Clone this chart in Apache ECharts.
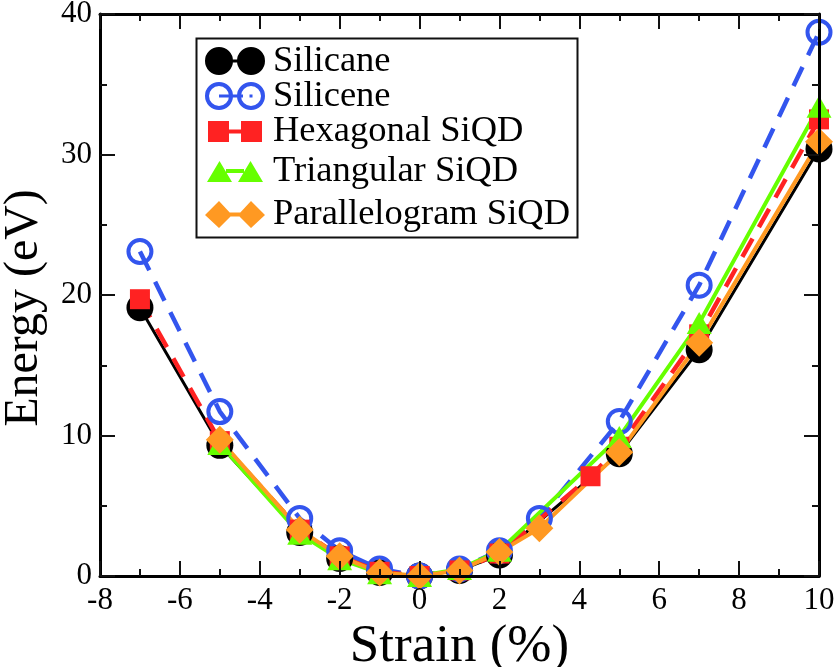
<!DOCTYPE html>
<html><head><meta charset="utf-8">
<style>html,body{margin:0;padding:0;background:#fff}#c{width:838px;height:667px}</style>
<script src="https://cdn.jsdelivr.net/npm/echarts@6/dist/echarts.min.js"></script>
</head><body><div id="c"></div>
<script>
const seriesNames = ["Silicane","Silicene","Hexagonal SiQD","Triangular SiQD","Parallelogram SiQD"];
const silicaneX = [-7,-5,-3,-2,-1,0,1,2,5,7,10];
const silicaneY = [19.1,9.3,3.1,1.25,0.25,0,0.4,1.5,8.7,16.1,30.4];
const siliceneX = [-7,-5,-3,-2,-1,0,1,2,3,5,7,10];
const siliceneY = [23.1,11.7,4.1,1.8,0.5,0,0.5,1.8,4.1,11,20.7,38.7];
const hexagonalX = [-7,-5,-3,-2,-1,0,1,2,4.28,5,7,10];
const hexagonalY = [19.7,9.6,3.3,1.4,0.3,0,0.4,1.6,7.1,9.2,17.2,32.5];
const triangularX = [-5,-3,-2,-1,0,1,2,5,7,10];
const triangularY = [9.4,3.0,1.2,0.2,0,0.5,1.8,9.9,18,33.4];
const parallelogramX = [-5,-3,-2,-1,0,1,2,3,5,7,10];
const parallelogramY = [9.7,3.3,1.4,0.25,0,0.4,1.7,3.4,8.8,16.6,30.9];

const zip = (a,b)=>a.map((v,i)=>[v,b[i]]);
const SERIF = '"Liberation Serif","Times New Roman",serif';
const BLACK='#000', BLUE='#3355ee', RED='#ff2222', GREEN='#66ff00', ORANGE='#ff9922';

const circ=(cx,cy,r,sw)=>`M${cx-r} ${cy}A${r} ${r} 0 1 ${sw} ${cx+r} ${cy}A${r} ${r} 0 1 ${sw} ${cx-r} ${cy}Z`;
const rect=(x,y,w,h)=>`M${x} ${y}L${x+w} ${y}L${x+w} ${y+h}L${x} ${y+h}Z`;
const icons = [
  'path://'+circ(14,14,14,1)+circ(46,14,14,1)+rect(14,12.5,32,3),
  'path://'+circ(14,14,14,1)+circ(14,14,10,0)+circ(46,14,14,1)+circ(46,14,10,0)+rect(14,12.5,24,3)+rect(44.5,12.5,3,3),
  'path://'+rect(0,0,21,21)+rect(33,0,21,21)+rect(21,8.5,12,4),
  'path://M0 21L12.5 0L25 21Z'+'M31 21L43.5 0L56 21Z'+rect(19,8,18,4),
  'path://M0 14L14 0L27 14L14 27Z'+'M33 14L46 0L60 14L46 27Z'+rect(20,11.5,20,4)
];
const legendRows = [
  {left:205,top:42.5,w:60,h:28},
  {left:205,top:77.5,w:60,h:28},
  {left:208,top:113,w:54,h:21},
  {left:207,top:153,w:56,h:21},
  {left:205,top:196,w:60,h:27}
];
const legends = seriesNames.map((n,i)=>({
  show:true, left:legendRows[i].left, top:legendRows[i].top, orient:'horizontal',
  itemWidth:legendRows[i].w, itemHeight:legendRows[i].h, selectedMode:false, padding:0,
  inactiveColor:'#000',
  itemStyle:{borderWidth:0,opacity:1}, lineStyle:{width:0,opacity:0},
  textStyle:{fontFamily:SERIF,fontSize:36.5,color:'#000',padding:[0,0,0,268-legendRows[i].left-legendRows[i].w]},
  data:[{name:n,icon:icons[i],itemStyle:{color:[BLACK,BLUE,RED,GREEN,ORANGE][i],borderWidth:0}}]
}));
const tickCommon = {
  z:10,
  axisLine:{show:true,onZero:false,lineStyle:{color:'#000',width:3}},
  axisTick:{show:true,inside:true,length:15,lineStyle:{color:'#111',width:2}},
  minorTick:{show:true,splitNumber:2,length:7,lineStyle:{color:'#111',width:2}},
  splitLine:{show:false}, minorSplitLine:{show:false}
};
const mk=(name,x,y,color,lw,dash,symbol,size,extra)=>({
  name,type:'line',data:zip(x,y),xAxisIndex:0,yAxisIndex:0,clip:false,
  symbol,symbolSize:size,showSymbol:true,
  lineStyle:{color,width:lw,type:dash?[21,13]:'solid'},
  itemStyle:Object.assign({color,opacity:1},extra||{}),
  emphasis:{disabled:true},animation:false
});
const chart = echarts.init(document.getElementById('c'),null,{renderer:'canvas'});
chart.setOption({
  animation:false,backgroundColor:'#fff',
  grid:{left:100,right:19,top:14,bottom:91,containLabel:false,outerBoundsMode:'none'},
  legend:legends,
  xAxis:[
    Object.assign({type:'value',min:-8,max:10,interval:2,position:'bottom',
      name:'Strain (%)',nameLocation:'middle',nameGap:35,
      nameTextStyle:{fontFamily:SERIF,fontSize:53,color:'#000'},
      axisLabel:{fontFamily:SERIF,fontSize:31,color:'#000',margin:9,showMinLabel:true,showMaxLabel:true}},tickCommon),
    Object.assign({type:'value',min:-8,max:10,interval:2,position:'top',axisLabel:{show:false}},tickCommon)
  ],
  yAxis:[
    Object.assign({type:'value',min:0,max:40,interval:10,position:'left',
      name:'Energy (eV)',nameLocation:'middle',nameGap:52,
      nameTextStyle:{fontFamily:SERIF,fontSize:48,color:'#000',padding:[0,26,0,0]},
      axisLabel:{fontFamily:SERIF,fontSize:31,color:'#000',margin:8,showMinLabel:true,showMaxLabel:true}},tickCommon),
    Object.assign({type:'value',min:0,max:40,interval:10,position:'right',axisLabel:{show:false}},tickCommon)
  ],
  graphic:[{type:'rect',z:1,shape:{x:196.5,y:38.5,width:381,height:199},style:{fill:'#fff',stroke:'#111',lineWidth:2}}],
  series:[
    mk(seriesNames[0],silicaneX,silicaneY,BLACK,3,false,'circle',27),
    mk(seriesNames[1],siliceneX,siliceneY,BLUE,4.5,true,'circle',23,{color:'rgba(0,0,0,0)',borderColor:BLUE,borderWidth:4}),
    mk(seriesNames[2],hexagonalX,hexagonalY,RED,4.5,true,'rect',20),
    mk(seriesNames[3],triangularX,triangularY,GREEN,4,false,'triangle',[25,22]),
    mk(seriesNames[4],parallelogramX,parallelogramY,ORANGE,4,false,'diamond',[28,28])
  ]
});
</script></body></html>
